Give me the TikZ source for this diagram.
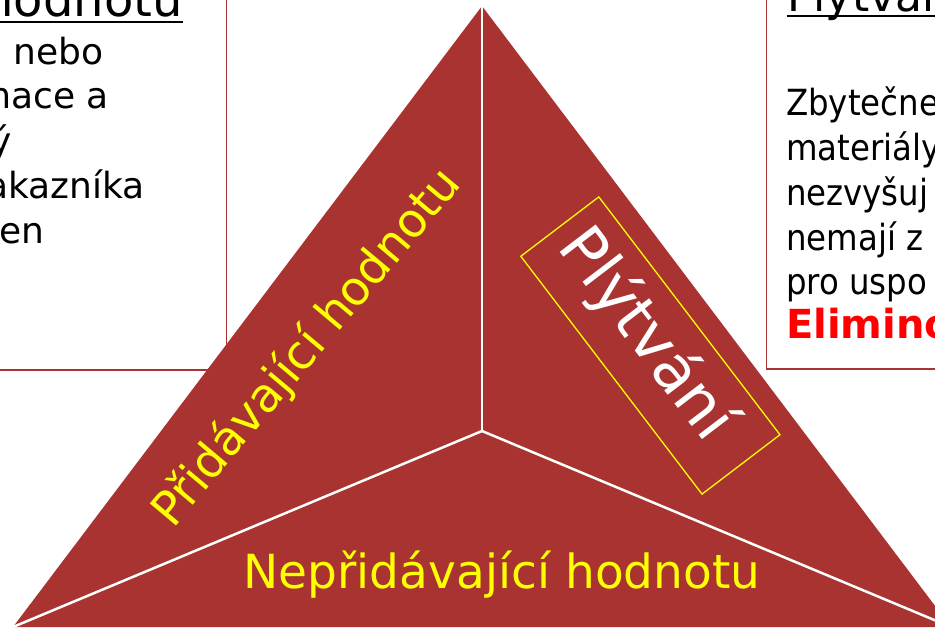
\documentclass[tikz,border=0pt]{standalone}
\usepackage{fontspec}
\setmainfont{DejaVu Sans}
\newfontfamily\condensedsans{DejaVu Sans Condensed}
\definecolor{trired}{RGB}{169,51,49}
\definecolor{signyellow}{RGB}{255,255,0}
\definecolor{alertred}{RGB}{255,0,0}
\begin{document}
\begin{tikzpicture}[x=1pt,y=-1pt,
  infobox/.style={draw=trired, line width=1.5pt, fill=white},
  headtext/.style={inner sep=0pt, text=black, font=\fontsize{48}{52}\selectfont},
  leftbody/.style={inner sep=0pt, text=black, anchor=base east, font=\fontsize{36}{40}\selectfont},
  rightbody/.style={inner sep=0pt, text=black, anchor=base west, font=\condensedsans\fontsize{36}{40}\selectfont},
  uline/.style={draw=black, line width=2pt},
  divider/.style={draw=white, line width=2.5pt},
  sidelabel/.style={inner sep=0pt, text=signyellow, font=\fontsize{47}{51}\selectfont},
  wastebox/.style={draw=signyellow, line width=1.3pt, minimum width=299pt, minimum height=98pt, inner sep=0pt},
  wastetext/.style={inner sep=0pt, text=white, font=\fontsize{62}{66}\selectfont}
]
\useasboundingbox (0,0) rectangle (935,627);
\clip (0,0) rectangle (935,627);

% information boxes on both sides
\draw[infobox] (-10,-10) rectangle (226.7,370);
\draw[infobox] (766.7,-10) rectangle (950,369);

% left box: heading and text
\node[headtext, anchor=base east] (lhead) at (183,16) {hodnotu};
\draw[uline] ([yshift=-5.5pt]lhead.base west) -- ([yshift=-5.5pt]lhead.base east);
\node[leftbody] (l1) at (103.5,64) {nebo};
\node[leftbody] (l2) at (109,108.5) {mace a};
\node[leftbody] (l3) at (12,153) {ý};
\node[leftbody] (l4) at (145,198) {akazníka};
\node[leftbody] (l5) at (45,243) {en};

% right box: heading and text
\node[headtext, anchor=base west, font=\fontsize{44}{48}\selectfont] (rhead) at (787,11) {Plýtvání};
\draw[uline] ([yshift=-4.5pt]rhead.base west) -- ([yshift=-4.5pt]rhead.base east);
\node[rightbody] (r1) at (786,115) {Zbytečne};
\node[rightbody] (r2) at (786,160) {materiály};
\node[rightbody] (r3) at (786,205) {nezvyšuj};
\node[rightbody] (r4) at (786,250) {nemají z};
\node[rightbody] (r5) at (786,294) {pro uspo};
\node[rightbody, text=alertred, font=\fontsize{40}{44}\selectfont\bfseries] (r6) at (786,338) {Elimino};

% the triangle and its three sectors
\coordinate (apex) at (482,6);
\coordinate (bl) at (13,627);
\coordinate (br) at (951,627);
\coordinate (mid) at (482,431);
\fill[trired] (apex) -- (bl) -- (br) -- cycle;
\draw[divider] (mid) -- (apex);
\draw[divider] (mid) -- (bl);
\draw[divider] (mid) -- (br);

% sector labels
\node[sidelabel, anchor=base, rotate=50] (added) at (318,357) {Přidávající hodnotu};
\node[sidelabel, anchor=base] (nonadded) at (502,588) {Nepřidávající hodnotu};
\node[wastebox, rotate=-52.7] (wastebox) at (650.4,345.5) {};
\node[wastetext, rotate=-52.7] (waste) at (646,335) {Plýtvání};
\end{tikzpicture}
\end{document}
